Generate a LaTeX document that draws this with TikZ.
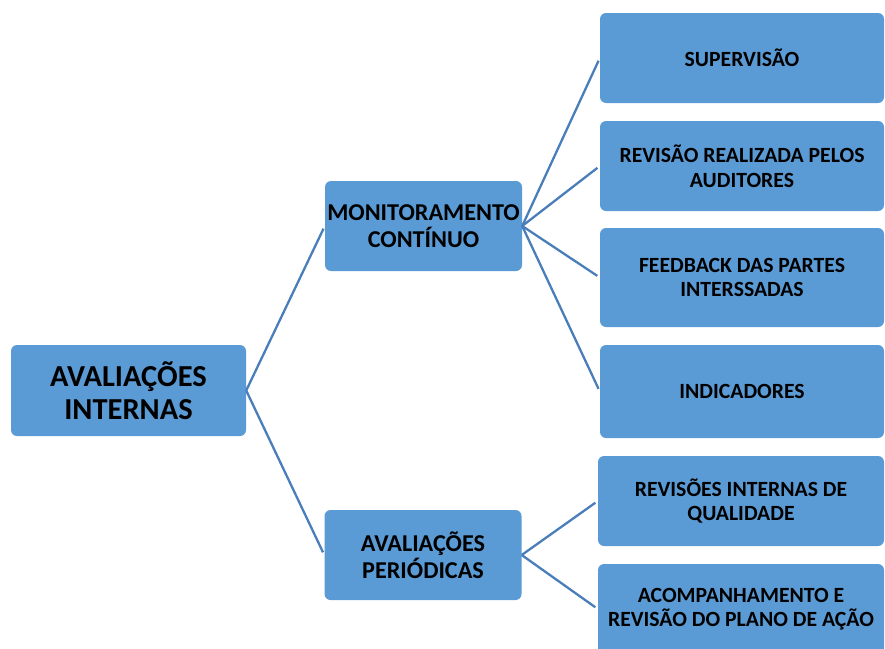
\documentclass[tikz,border=0pt]{standalone}
\usepackage{fontspec}
\setmainfont{Carlito}
\definecolor{caixaazul}{HTML}{5B9BD5}
\definecolor{linhaazul}{HTML}{4A7EBB}
\tikzset{
  caixa/.style={fill=caixaazul, rounded corners=6pt, align=center, inner sep=0pt},
  folha/.style={caixa, minimum width=286pt, minimum height=90pt, font=\fontsize{21.7}{24.5}\selectfont\bfseries},
  ramo/.style={caixa, minimum width=197pt, minimum height=90pt, font=\fontsize{24.2}{27}\selectfont\bfseries},
  ligacao/.style={draw=linhaazul, line width=2.3pt, shorten >=3pt}
}
\begin{document}
\begin{tikzpicture}[x=1pt,y=-1pt]
    \useasboundingbox (0,0) rectangle (885,648);
    % raiz
    \node[caixa, minimum width=235pt, minimum height=91pt, font=\fontsize{30.5}{33}\selectfont\bfseries] (raiz) at (128.5,390.5) {AVALIAÇÕES\\INTERNAS};
    % ramos
    \node[ramo] (monit) at (423.5,226) {MONITORAMENTO\\CONTÍNUO};
    \node[ramo] (perio) at (423,555) {AVALIAÇÕES\\PERIÓDICAS};
    % folhas
    \node[folha, minimum width=284pt] (superv) at (742,58) {SUPERVISÃO};
    \node[folha, minimum width=284pt] (revaud) at (742,166) {REVISÃO REALIZADA PELOS\\AUDITORES};
    \node[folha, minimum width=284pt, minimum height=99pt] (feedb) at (742,277.5) {FEEDBACK DAS PARTES\\INTERSSADAS};
    \node[folha, minimum width=284pt, minimum height=93pt] (indic) at (742,391.5) {INDICADORES};
    \node[folha] (revint) at (741,501) {REVISÕES INTERNAS DE\\QUALIDADE};
    \node[folha] (acomp) at (741,609) {ACOMPANHAMENTO E\\REVISÃO DO PLANO DE AÇÃO};
    % ligacoes
    \draw[ligacao] (raiz.east) -- (monit.west);
    \draw[ligacao] (raiz.east) -- (perio.west);
    \draw[ligacao] (monit.east) -- (superv.west);
    \draw[ligacao] (monit.east) -- (revaud.west);
    \draw[ligacao] (monit.east) -- (feedb.west);
    \draw[ligacao] (monit.east) -- (indic.west);
    \draw[ligacao] (perio.east) -- (revint.west);
    \draw[ligacao] (perio.east) -- (acomp.west);
\end{tikzpicture}
\end{document}
